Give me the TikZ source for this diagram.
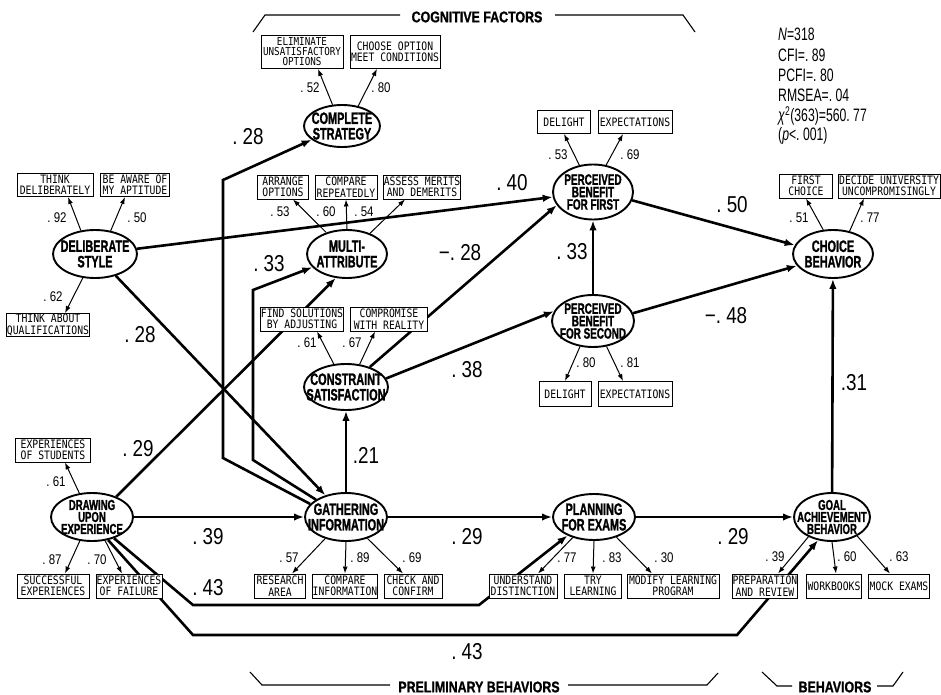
\documentclass[tikz,border=0pt]{standalone}
\usepackage{fontspec}
\setmainfont{Liberation Sans}
\newfontfamily\boxfont[FakeStretch=0.84]{DejaVu Sans Mono}
\newfontfamily\latfont[FakeStretch=0.66,BoldFeatures={FakeBold=1.2}]{Liberation Sans}
\newfontfamily\headfont[FakeStretch=0.8,BoldFeatures={FakeBold=1}]{Liberation Sans}
\newfontfamily\numfont[FakeStretch=0.82]{Liberation Sans}
\newfontfamily\statfont[FakeStretch=0.68]{Liberation Sans}
\usetikzlibrary{arrows.meta,shapes.geometric}
\pgfdeclarelayer{bg}
\pgfsetlayers{bg,main}
\tikzset{
  lat/.style={ellipse, draw, line width=1.9pt, fill=white, inner sep=0pt},
  lt/.style={font=\latfont\bfseries\fontsize{16.5}{15.5}\selectfont, align=center, inner sep=0pt},
  lt3/.style={font=\latfont\bfseries\fontsize{15}{12.4}\selectfont, align=center, inner sep=0pt},
  lt3s/.style={font=\latfont\bfseries\fontsize{14.5}{12}\selectfont, align=center, inner sep=0pt},
  obs/.style={rectangle, draw, line width=0.9pt, fill=white, inner sep=0pt, align=center,
    font=\boxfont\fontsize{11.6}{11.5}\selectfont},
  obs3/.style={obs, font=\boxfont\fontsize{11}{10}\selectfont},
  sem/.style={line width=2.6pt, -{Latex[length=10pt,width=7.5pt]}},
  ind/.style={line width=1pt, -{Latex[length=7pt,width=5pt]}},
  coef/.style={font=\numfont\fontsize{23}{23}\selectfont, inner sep=0pt},
  ld/.style={font=\numfont\fontsize{14}{14}\selectfont, inner sep=0pt},
  stat/.style={font=\statfont\fontsize{18}{18}\selectfont, inner sep=0pt, anchor=base west},
  brk/.style={line width=1.1pt},
  head/.style={font=\headfont\bfseries\fontsize{15.5}{15.5}\selectfont, inner sep=0pt}
}
\begin{document}
\begin{tikzpicture}[x=1pt,y=-1pt]
\useasboundingbox (0,0) rectangle (941,695);

% latent variables
\node[lat,minimum width=84pt,minimum height=48pt] (ds) at (95,254) {};
\node[lat,minimum width=76pt,minimum height=42pt] (cs) at (342,126) {};
\node[lat,minimum width=80pt,minimum height=48pt] (ma) at (347,254) {};
\node[lat,minimum width=80pt,minimum height=55pt] (pf) at (593,192) {};
\node[lat,minimum width=82pt,minimum height=52pt] (ps) at (593,321) {};
\node[lat,minimum width=80pt,minimum height=48pt] (cb) at (833,254) {};
\node[lat,minimum width=84pt,minimum height=46pt] (cn) at (346,387) {};
\node[lat,minimum width=82pt,minimum height=48pt] (de) at (92,517) {};
\node[lat,minimum width=82pt,minimum height=48pt] (gi) at (346,517) {};
\node[lat,minimum width=82pt,minimum height=46pt] (pe) at (594,517) {};
\node[lat,minimum width=76pt,minimum height=48pt] (ga) at (832,517) {};

\node[lt] (dst) at (ds) {DELIBERATE\\STYLE};
\node[lt] (cst) at (cs) {COMPLETE\\STRATEGY};
\node[lt] (mat) at (ma) {MULTI-\\ATTRIBUTE};
\node[lt3] (pft) at (pf) {PERCEIVED\\BENEFIT\\FOR FIRST};
\node[lt3] (pst) at (ps) {PERCEIVED\\BENEFIT\\FOR SECOND};
\node[lt] (cbt) at (cb) {CHOICE\\BEHAVIOR};
\node[lt] (cnt) at (cn) {CONSTRAINT\\SATISFACTION};
\node[lt3s] (det) at (de) {DRAWING\\UPON\\EXPERIENCE};
\node[lt] (git) at (gi) {GATHERING\\INFORMATION};
\node[lt] (pet) at (pe) {PLANNING\\FOR EXAMS};
\node[lt3s] (gat) at (ga) {GOAL\\ACHIEVEMENT\\BEHAVIOR};

% observed variables
\node[obs3,minimum width=82pt,minimum height=33pt] (b1) at (302,52) {ELIMINATE\\UNSATISFACTORY\\OPTIONS};
\node[obs,minimum width=90pt,minimum height=33pt] (b2) at (395,52) {CHOOSE OPTION\\MEET CONDITIONS};
\node[obs,minimum width=76pt,minimum height=23pt] (b3) at (55,185) {THINK\\DELIBERATELY};
\node[obs,minimum width=69pt,minimum height=23pt] (b4) at (135,185) {BE AWARE OF\\MY APTITUDE};
\node[obs,minimum width=83pt,minimum height=23pt] (b5) at (48,325) {THINK ABOUT\\QUALIFICATIONS};
\node[obs,minimum width=51pt,minimum height=24pt] (b6) at (283,187) {ARRANGE\\OPTIONS};
\node[obs,minimum width=62pt,minimum height=24pt] (b7) at (346,187) {COMPARE\\REPEATEDLY};
\node[obs,minimum width=76pt,minimum height=24pt] (b8) at (422,187) {ASSESS MERITS\\AND DEMERITS};
\node[obs,minimum width=53pt,minimum height=23pt] (b9) at (564,122) {DELIGHT};
\node[obs,minimum width=74pt,minimum height=23pt] (b10) at (635,122) {EXPECTATIONS};
\node[obs,minimum width=53pt,minimum height=24pt] (b11) at (806,186) {FIRST\\CHOICE};
\node[obs,minimum width=102pt,minimum height=24pt] (b12) at (889,186) {DECIDE UNIVERSITY\\UNCOMPROMISINGLY};
\node[obs,minimum width=82pt,minimum height=24pt] (b13) at (302,319) {FIND SOLUTIONS\\BY ADJUSTING};
\node[obs,minimum width=77pt,minimum height=24pt] (b14) at (389,319) {COMPROMISE\\WITH REALITY};
\node[obs,minimum width=52pt,minimum height=25pt] (b15) at (565,394) {DELIGHT};
\node[obs,minimum width=74pt,minimum height=25pt] (b16) at (635,394) {EXPECTATIONS};
\node[obs,minimum width=75pt,minimum height=24pt] (b17) at (53,450) {EXPERIENCES\\OF STUDENTS};
\node[obs,minimum width=72pt,minimum height=24pt] (b18) at (53,586) {SUCCESSFUL\\EXPERIENCES};
\node[obs,minimum width=66pt,minimum height=24pt] (b19) at (129,586) {EXPERIENCES\\OF FAILURE};
\node[obs,minimum width=51pt,minimum height=24pt] (b20) at (280,586) {RESEARCH\\AREA};
\node[obs,minimum width=65pt,minimum height=24pt] (b21) at (345,586) {COMPARE\\INFORMATION};
\node[obs,minimum width=58pt,minimum height=24pt] (b22) at (413,586) {CHECK AND\\CONFIRM};
\node[obs,minimum width=68pt,minimum height=24pt] (b23) at (523,586) {UNDERSTAND\\DISTINCTION};
\node[obs,minimum width=57pt,minimum height=24pt] (b24) at (593,586) {TRY\\LEARNING};
\node[obs,minimum width=92pt,minimum height=24pt] (b25) at (673,586) {MODIFY LEARNING\\PROGRAM};
\node[obs,minimum width=64pt,minimum height=24pt] (b26) at (765,586) {PREPARATION\\AND REVIEW};
\node[obs,minimum width=55pt,minimum height=24pt] (b27) at (834,586) {WORKBOOKS};
\node[obs,minimum width=61pt,minimum height=24pt] (b28) at (899,586) {MOCK EXAMS};

% structural paths
\begin{pgfonlayer}{bg}
\fill[white] (0,0) rectangle (941,695);
\draw[sem] (ds) -- (gi);
\draw[sem] (ds) -- (pf);
\draw[sem] (de.40) -- (ma.245);
\draw[sem] (gi.160) -- (223,458) -- (223,180) -- (cs);
\draw[sem] (gi.150) -- (253,460) -- (253,290) -- (ma);
\draw[sem] (gi) -- (cn);
\draw[sem] (cn.40) -- (pf.200);
\draw[sem] (cn.12) -- (ps.166);
\draw[sem] (ps) -- (pf);
\draw[sem] (pf.348) -- (cb.167);
\draw[sem] (ps.11) -- (cb.198);
\draw[sem] (de) -- (gi);
\draw[sem] (gi) -- (pe);
\draw[sem] (pe) -- (ga);
\draw[sem] (ga) -- (cb);
\draw[sem] (de.316) -- (193,605) -- (479,605) -- (pe.215);
\draw[sem] (de.305) -- (193,635) -- (737,635) -- (ga.239);
\end{pgfonlayer}

% measurement arrows
\draw[ind] (ds.121) -- ([xshift=13pt]b3.south);
\draw[ind] (ds.56) -- ([xshift=-10pt]b4.south);
\draw[ind] (ds.243) -- ([xshift=17pt]b5.north);
\draw[ind] (cs.114) -- ([xshift=16pt]b1.south);
\draw[ind] (cs.51) -- ([xshift=-18pt]b2.south);
\draw[ind] (ma.134) -- ([xshift=10pt]b6.south);
\draw[ind] (ma.90) -- (b7.south);
\draw[ind] (ma.42) -- ([xshift=-17pt]b8.south);
\draw[ind] (pf.117) -- (b9.south);
\draw[ind] (pf.64) -- ([xshift=-12pt]b10.south);
\draw[ind] (cb.112) -- (b11.south);
\draw[ind] (cb.54) -- ([xshift=-25pt]b12.south);
\draw[ind] (cn.118) -- ([xshift=15pt]b13.south);
\draw[ind] (cn.59) -- ([xshift=-14pt]b14.south);
\draw[ind] (ps.243) -- (b15.north);
\draw[ind] (ps.298) -- ([xshift=-12pt]b16.north);
\draw[ind] (de.118) -- ([xshift=12pt]b17.south);
\draw[ind] (de.243) -- ([xshift=12pt]b18.north);
\draw[ind] (de.299) -- ([xshift=-7pt]b19.north);
\draw[ind] (gi.226) -- ([xshift=12pt]b20.north);
\draw[ind] (gi.270) -- (b21.north);
\draw[ind] (gi.315) -- ([xshift=-10pt]b22.north);
\draw[ind] (pe.224) -- ([xshift=15pt]b23.north);
\draw[ind] (pe.270) -- (b24.north);
\draw[ind] (pe.318) -- ([xshift=-21pt]b25.north);
\draw[ind] (ga.220) -- ([xshift=13pt]b26.north);
\draw[ind] (ga.270) -- ([xshift=2pt]b27.north);
\draw[ind] (ga.323) -- ([xshift=-9pt]b28.north);

% loadings
\node[ld] (l1) at (57,218) {.\ 92};
\node[ld] (l2) at (137,218) {.\ 50};
\node[ld] (l3) at (53,297) {.\ 62};
\node[ld] (l4) at (310,88) {.\ 52};
\node[ld] (l5) at (381,88) {.\ 80};
\node[ld] (l6) at (280,212) {.\ 53};
\node[ld] (l7) at (326,212) {.\ 60};
\node[ld] (l8) at (364,212) {.\ 54};
\node[ld] (l9) at (558,155) {.\ 53};
\node[ld] (l10) at (630,155) {.\ 69};
\node[ld] (l11) at (799,218) {.\ 51};
\node[ld] (l12) at (870,218) {.\ 77};
\node[ld] (l13) at (307,343) {.\ 61};
\node[ld] (l14) at (352,343) {.\ 67};
\node[ld] (l15) at (586,363) {.\ 80};
\node[ld] (l16) at (630,363) {.\ 81};
\node[ld] (l17) at (56,482) {.\ 61};
\node[ld] (l18) at (52,560) {.\ 87};
\node[ld] (l19) at (97,560) {.\ 70};
\node[ld] (l20) at (289,558) {.\ 57};
\node[ld] (l21) at (360,558) {.\ 89};
\node[ld] (l22) at (412,558) {.\ 69};
\node[ld] (l23) at (567,558) {.\ 77};
\node[ld] (l24) at (612,558) {.\ 83};
\node[ld] (l25) at (664,558) {.\ 30};
\node[ld] (l26) at (775,557) {.\ 39};
\node[ld] (l27) at (847,557) {.\ 60};
\node[ld] (l28) at (899,557) {.\ 63};

% path coefficients
\node[coef] (c1) at (248,137) {.\ 28};
\node[coef] (c2) at (140,335) {.\ 28};
\node[coef] (c3) at (269,264) {.\ 33};
\node[coef] (c4) at (512,183) {.\ 40};
\node[coef] (c5) at (460,253) {−.\ 28};
\node[coef] (c6) at (572,252) {.\ 33};
\node[coef] (c7) at (467,370) {.\ 38};
\node[coef] (c8) at (732,205) {.\ 50};
\node[coef] (c9) at (726,316) {−.\ 48};
\node[coef] (c10) at (366,455) {.21};
\node[coef] (c11) at (138,449) {.\ 29};
\node[coef] (c12) at (208,537) {.\ 39};
\node[coef] (c13) at (208,588) {.\ 43};
\node[coef] (c14) at (467,537) {.\ 29};
\node[coef] (c15) at (733,537) {.\ 29};
\node[coef] (c16) at (854,383) {.31};
\node[coef] (c17) at (467,652) {.\ 43};

% fit statistics
\node[stat] (s1) at (778,41) {\textit{N}=318};
\node[stat] (s2) at (778,62) {CFI=.\ 89};
\node[stat] (s3) at (778,82) {PCFI=.\ 80};
\node[stat] (s4) at (778,102) {RMSEA=.\ 04};
\node[stat] (s5) at (778,122) {\textit{χ}\textsuperscript{2}(363)=560.\ 77};
\node[stat] (s6) at (778,141) {(\textit{p}<.\ 001)};

% brackets and headers
\draw[brk] (253,32) -- (265,15) -- (400,15);
\draw[brk] (555,15) -- (683,15) -- (695,32);
\node[head] (h1) at (477,17) {COGNITIVE FACTORS};
\draw[brk] (250,672) -- (262,685) -- (390,685);
\draw[brk] (568,685) -- (707,685) -- (718,673);
\node[head] (h2) at (479,687) {PRELIMINARY BEHAVIORS};
\draw[brk] (762,672) -- (777,686) -- (792,686);
\draw[brk] (877,686) -- (893,686) -- (903,672);
\node[head] (h3) at (835,687) {BEHAVIORS};
\end{tikzpicture}
\end{document}
